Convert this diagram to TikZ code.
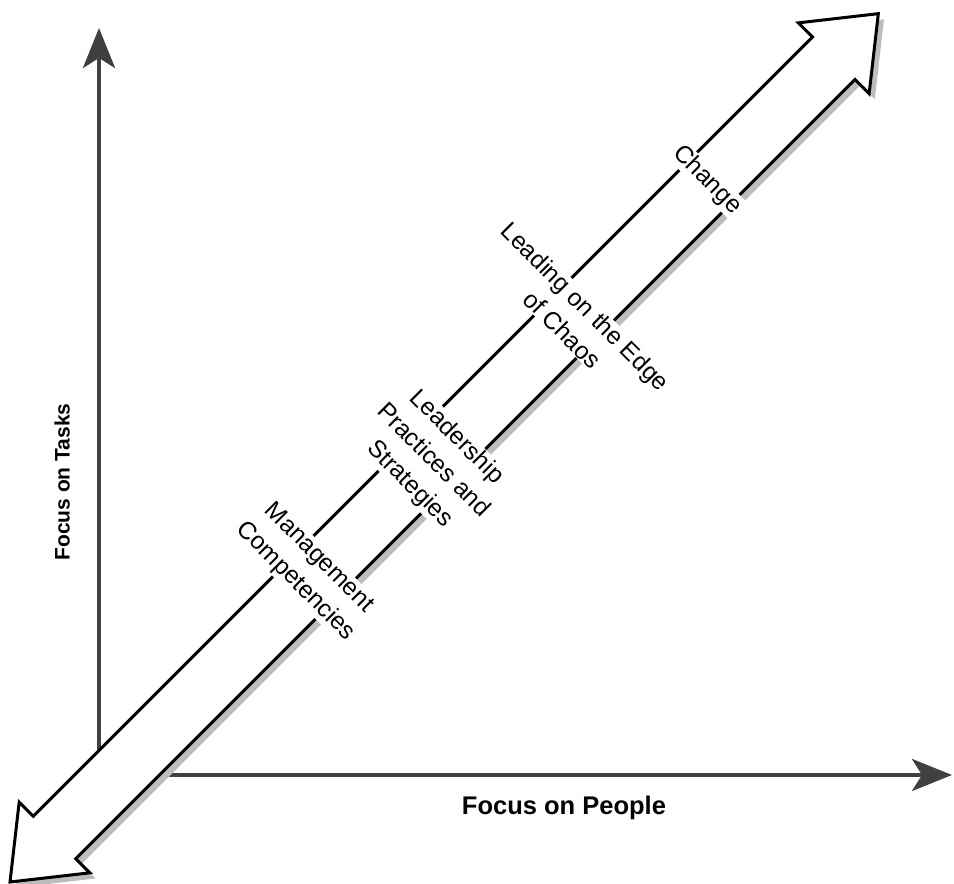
\documentclass[tikz,border=0pt]{standalone}
\usepackage{fontspec}
\setmainfont{Liberation Sans}
\usetikzlibrary{arrows.meta}
\definecolor{axisgray}{HTML}{404040}
\definecolor{shadowgray}{HTML}{BDBDBD}
\begin{document}
\begin{tikzpicture}[x=1pt,y=1pt,
  axis/.style={draw=axisgray, line width=4pt, -{Stealth[length=40pt,width=32pt,inset=10pt]}},
  axlabel/.style={font=\bfseries, inner sep=0pt},
  stage/.style={font=\fontsize{24.5}{33}\selectfont, align=center, rotate=-45, fill=white, inner sep=1pt},
  bigarrow/.style={draw=black, line width=3pt, fill=white, line join=miter},
]
\useasboundingbox (0,0) rectangle (954,884);
% axes
\coordinate (O) at (99,109);
\coordinate (T) at (99,856);
\coordinate (R) at (952,109);
\draw[axis] (O) -- (T);
\draw[axis] (O) -- (R);
\node[axlabel, rotate=90, font=\fontsize{21}{25}\selectfont\bfseries] (tasks) at (62,402) {Focus on Tasks};
\node[axlabel, font=\fontsize{25.5}{30}\selectfont\bfseries] (people) at (564,76) {Focus on People};
% big double arrow
\begin{scope}[shift={(10,2)}, rotate=45]
  \fill[shadowgray] (0,-8) -- (63,42) -- (63,22) -- (1165,22) -- (1165,42) -- (1228,-8)
     -- (1165,-58) -- (1165,-38) -- (63,-38) -- (63,-58) -- cycle;
  \path[bigarrow] (0,0) -- (63,50) -- (63,30) -- (1165,30) -- (1165,50) -- (1228,0)
     -- (1165,-50) -- (1165,-30) -- (63,-30) -- (63,-50) -- cycle;
\end{scope}
% stage labels
\node[stage] (change) at (707,704) {Change};
\node[stage] (edge) at (574,566) {Leading on the Edge\\of Chaos};
\node[stage] (lead) at (433,423) {Leadership\\Practices and\\Strategies};
\node[stage] (mgmt) at (307,314) {Management\\Competencies};
\end{tikzpicture}
\end{document}
